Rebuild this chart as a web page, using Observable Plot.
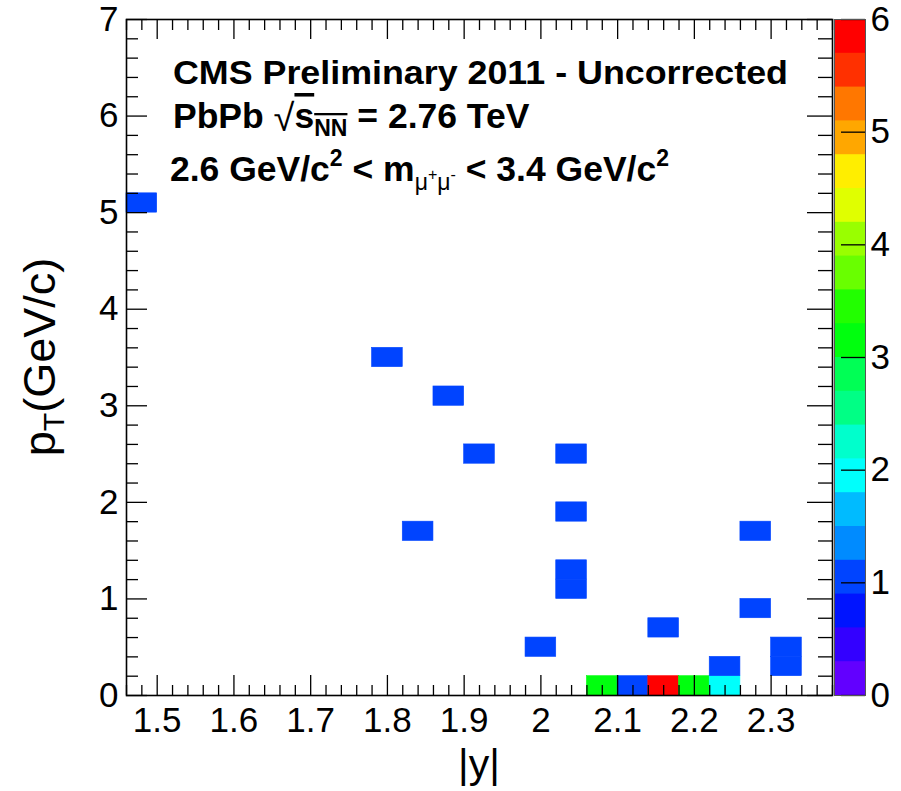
<!DOCTYPE html>
<html><head><meta charset="utf-8">
<script src="https://cdn.jsdelivr.net/npm/d3@7"></script>
<script src="https://cdn.jsdelivr.net/npm/@observablehq/plot@0.6"></script>
<style>
body{margin:0;background:#fff;}
#wrap{position:relative;width:901px;height:791px;overflow:hidden;background:#fff;}
#wrap svg{position:absolute;top:0;}
</style></head><body><div id="wrap"></div>
<script>
// ---- data: 2D histogram cells (bin centres) ----
const absYCentres = [1.48, 1.80, 1.84, 1.88, 1.92, 2.00, 2.04, 2.04, 2.04, 2.04, 2.08, 2.12, 2.16, 2.16, 2.20, 2.24, 2.24, 2.28, 2.28, 2.32, 2.32];
const ptCentres   = [5.1,  3.5,  1.7,  3.1,  2.5,  0.5,  2.5,  1.9,  1.3,  1.1,  0.1,  0.1,  0.1,  0.7,  0.1,  0.1,  0.3,  1.7,  0.9,  0.5,  0.3];
const counts      = [1,    1,    1,    1,    1,    1,    1,    1,    1,    1,    3,    1,    6,    1,    3,    2,    1,    1,    1,    1,    1];
const binWidthAbsY = 0.04;
const binWidthPt = 0.2;

// ---- axes ----
const xTickLabels = [1.5, 1.6, 1.7, 1.8, 1.9, 2, 2.1, 2.2, 2.3];
const yTickLabels = [0, 1, 2, 3, 4, 5, 6, 7];
const zTickLabels = [0, 1, 2, 3, 4, 5, 6];
const xDomain = [1.46, 2.38];
const yDomain = [0, 7];
const zDomain = [0, 6];

// ---- colour palette: 20 contour levels ----
const zLevels = [0, 0.3, 0.6, 0.9, 1.2, 1.5, 1.8, 2.1, 2.4, 2.7, 3.0, 3.3, 3.6, 3.9, 4.2, 4.5, 4.8, 5.1, 5.4, 5.7, 6.0];
const palette = ["#6200ff","#3300ff","#0014ff","#0044ff","#008bff","#00bbff","#00fffc","#00ffcc","#00ff85","#00ff55",
                 "#00ff0e","#22ff00","#69ff00","#99ff00","#e0ff00","#ffee00","#ffa700","#ff7700","#ff3000","#ff0000"];

// ---- texts ----
const titleLine1 = "CMS Preliminary 2011 - Uncorrected";
const xTitle = "|y|";

const FONT = "'Liberation Sans', Arial, Helvetica, sans-serif";
const W = 901, H = 791, mL = 126, mR = 69, mT = 19, mB = 96;
const fw = W - mL - mR, fh = H - mT - mB;

const cells = absYCentres.map((v, i) => ({absY: v, pt: ptCentres[i], n: counts[i]}));
// each band drawn from its lower edge to the top; later (higher) bands paint over -> no seams
const bands = palette.map((c, i) => ({lo: zLevels[i], top: zDomain[1], mid: (zLevels[i] + zLevels[i + 1]) / 2}));
const colorOpts = {type: "threshold", domain: zLevels.slice(1, -1), range: palette};

const minorX = d3.range(73, 120).filter(i => i % 5 !== 0).map(i => i / 50);
const minorY = d3.range(1, 35).filter(i => i % 5 !== 0).map(i => i / 5);

const main = Plot.plot({
  width: W, height: H, marginLeft: mL, marginRight: mR, marginTop: mT, marginBottom: mB,
  style: {fontFamily: FONT, fontSize: "35px", color: "#000", background: "white", overflow: "visible"},
  x: {domain: xDomain}, y: {domain: yDomain},
  color: colorOpts,
  marks: [
    Plot.rect(cells, {x1: d => d.absY - binWidthAbsY / 2, x2: d => d.absY + binWidthAbsY / 2,
                      y1: d => d.pt - binWidthPt / 2, y2: d => d.pt + binWidthPt / 2, fill: "n",
                      stroke: "n", strokeWidth: 0.6, inset: 0}),
    // inward ticks (bottom/top)
    Plot.tickX(xTickLabels, {x: d => d, insetTop: fh - 20, stroke: "#000", strokeWidth: 1.3}),
    Plot.tickX(minorX, {x: d => d, insetTop: fh - 10, stroke: "#000", strokeWidth: 1.3}),
    Plot.tickX(xTickLabels, {x: d => d, insetBottom: fh - 20, stroke: "#000", strokeWidth: 1.3}),
    Plot.tickX(minorX, {x: d => d, insetBottom: fh - 11, stroke: "#000", strokeWidth: 1.3}),
    // inward ticks (left/right)
    Plot.tickY(yTickLabels, {y: d => d, insetRight: fw - 21, stroke: "#000", strokeWidth: 1.3}),
    Plot.tickY(minorY, {y: d => d, insetRight: fw - 12, stroke: "#000", strokeWidth: 1.3}),
    Plot.tickY(yTickLabels, {y: d => d, insetLeft: fw - 25, stroke: "#000", strokeWidth: 1.3}),
    Plot.tickY(minorY, {y: d => d, insetLeft: fw - 14, stroke: "#000", strokeWidth: 1.3}),
    Plot.axisX({ticks: xTickLabels, tickSize: 0, tickPadding: 12, fontSize: 35, label: null, tickFormat: d => `${d}`}),
    Plot.axisY({ticks: yTickLabels, tickSize: 0, tickPadding: 8, fontSize: 35, label: null, tickFormat: d => `${d}`}),
    Plot.frame({stroke: "#000", strokeWidth: 1.6})
  ]
});

const cbarLeft = 826;
const cbar = Plot.plot({
  width: W - cbarLeft, height: H, marginLeft: 8, marginRight: 36, marginTop: mT, marginBottom: mB,
  style: {fontFamily: FONT, fontSize: "35px", color: "#000", background: "transparent", overflow: "visible"},
  x: {domain: [0, 1], axis: null}, y: {domain: zDomain, axis: null},
  color: colorOpts,
  marks: [
    Plot.rect(bands, {x1: 0, x2: 1, y1: "lo", y2: "top", fill: "mid", inset: 0}),
    Plot.tickY(zTickLabels, {y: d => d, insetLeft: 7, stroke: "#000", strokeWidth: 1.3}),
    Plot.axisY({ticks: zTickLabels, anchor: "right", tickSize: 0, tickPadding: 5, fontSize: 35, label: null, tickFormat: d => `${d}`}),
    Plot.frame({stroke: "#555", strokeWidth: 1})
  ]
});
cbar.style.left = cbarLeft + "px";

const wrap = document.getElementById("wrap");
wrap.appendChild(main);
wrap.appendChild(cbar);

// ---- rich-text annotations ----
const svg = d3.select(main);
const g = svg.append("g").attr("font-family", FONT).attr("fill", "#000").attr("text-anchor", "start");

g.append("text").attr("x", mL + 47).attr("y", 84).attr("font-size", 34).attr("font-weight", "bold")
  .attr("textLength", 615).attr("lengthAdjust", "spacingAndGlyphs").text(titleLine1);

const t2 = g.append("text").attr("x", mL + 47).attr("y", 128).attr("font-size", 35.5).attr("font-weight", "bold");
t2.append("tspan").text("PbPb ");
t2.append("tspan").attr("font-weight", "normal").attr("font-size", 38).attr("dy", 3).text("\u221A");
t2.append("tspan").attr("dy", -3).attr("text-decoration", "overline").text("s");
t2.append("tspan").attr("font-size", 23).attr("dy", 8).attr("text-decoration", "overline").text("NN");
t2.append("tspan").attr("dy", -8).text(" = 2.76 TeV");

const t3 = g.append("text").attr("x", mL + 44).attr("y", 181).attr("font-size", 35.5).attr("font-weight", "bold");
t3.append("tspan").text("2.6 GeV/c");
t3.append("tspan").attr("font-size", 23).attr("dy", -15).text("2");
t3.append("tspan").attr("dy", 15).text(" < m");
t3.append("tspan").attr("font-size", 23).attr("font-weight", "normal").attr("dy", 9).text("\u03BC");
t3.append("tspan").attr("font-size", 16).attr("font-weight", "normal").attr("dy", -10).text("+");
t3.append("tspan").attr("font-size", 23).attr("font-weight", "normal").attr("dy", 10).text("\u03BC");
t3.append("tspan").attr("font-size", 16).attr("font-weight", "normal").attr("dy", -10).text("-");
t3.append("tspan").attr("dy", 1).text(" < 3.4 GeV/c");
t3.append("tspan").attr("font-size", 23).attr("dy", -15).text("2");

// axis titles
g.append("text").attr("x", mL + fw / 2).attr("y", 778).attr("text-anchor", "middle").attr("font-size", 41).text(xTitle);
const yt = g.append("text").attr("transform", `translate(55,${mT + fh / 2}) rotate(-90)`).attr("text-anchor", "middle").attr("font-size", 45);
yt.append("tspan").text("p");
yt.append("tspan").attr("font-size", 30).attr("dy", 9).text("T");
yt.append("tspan").attr("dy", -9).text("(GeV/c)");
</script></body></html>
